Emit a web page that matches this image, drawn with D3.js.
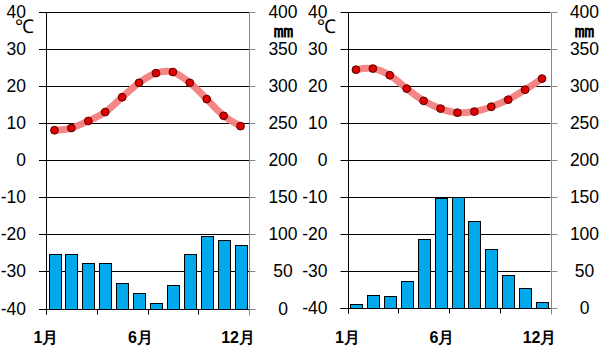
<!DOCTYPE html>
<html><head><meta charset="utf-8">
<script src="https://cdn.jsdelivr.net/npm/d3@7/dist/d3.min.js"></script>
<style>
html,body{margin:0;padding:0;background:#fff;}
svg{display:block;}
text{font-family:"Liberation Sans",Arial,sans-serif;}
</style></head>
<body>
<svg id="c" width="600" height="347"></svg>
<script>
const months = ["1月","2月","3月","4月","5月","6月","7月","8月","9月","10月","11月","12月"];
const tempA = [8.1, 8.7, 10.6, 13.0, 17.0, 20.9, 23.5, 23.8, 20.9, 16.5, 12.0, 9.2];
const precipA = [74, 74, 61, 61, 34, 21, 8, 32, 74, 98, 93, 86];
const tempB = [24.3, 24.6, 22.8, 19.2, 15.9, 13.8, 12.7, 13.0, 14.3, 16.2, 18.9, 21.9];
const precipB = [6, 18, 16, 36, 93, 148, 150, 118, 79, 45, 27, 8];
const tempTicks = [-40, -30, -20, -10, 0, 10, 20, 30, 40];
const precipTicks = [0, 50, 100, 150, 200, 250, 300, 350, 400];
const shownLabels = ["1月", "6月", "12月"];
const tempUnit = "℃";
const precipUnit = "㎜";

const svg = d3.select("#c");

function drawChart(temps, precs, x0, x1, yTop, yBot) {
  const g = svg.append("g");
  const x = d3.scaleBand().domain(months).range([x0, x1]).paddingInner(0.3).paddingOuter(0.15);
  const xc = m => x(m) + x.bandwidth() / 2;
  const yT = d3.scaleLinear().domain([-40, 40]).range([yBot, yTop]);
  const yP = d3.scaleLinear().domain([0, 400]).range([yBot, yTop]);
  const snap = v => Math.round(v) + 0.5;

  g.selectAll(".grid").data(tempTicks).join("line")
    .attr("x1", x0 - 7).attr("x2", x1)
    .attr("y1", d => snap(yT(d))).attr("y2", d => snap(yT(d)))
    .attr("stroke", "#000").attr("stroke-width", 1);

  g.selectAll(".bar").data(precs).join("rect")
    .attr("x", (d, i) => Math.round(x(months[i])) + 0.5)
    .attr("width", Math.round(x.bandwidth()))
    .attr("y", d => Math.round(yP(d)) + 0.5)
    .attr("height", d => snap(yP(0)) - (Math.round(yP(d)) + 0.5))
    .attr("fill", "#00A9EC").attr("stroke", "#000").attr("stroke-width", 1);

  g.append("line").attr("x1", snap(x0)).attr("x2", snap(x0))
    .attr("y1", snap(yT(40))).attr("y2", snap(yT(-40)) + 5)
    .attr("stroke", "#000");
  g.append("line").attr("x1", x0 - 7).attr("x2", x1)
    .attr("y1", snap(yT(-40))).attr("y2", snap(yT(-40))).attr("stroke", "#000");
  const bounds = [0, 3, 6, 9];
  g.selectAll(".xt").data(bounds).join("line")
    .attr("x1", i => snap(x(months[i]) - x.step() * 0.15))
    .attr("x2", i => snap(x(months[i]) - x.step() * 0.15))
    .attr("y1", snap(yT(-40))).attr("y2", snap(yT(-40)) + 5)
    .attr("stroke", "#000");

  g.append("line").attr("x1", snap(x1)).attr("x2", snap(x1))
    .attr("y1", snap(yP(400))).attr("y2", snap(yP(0)) + 6)
    .attr("stroke", "#888");
  g.selectAll(".rt").data(precipTicks).join("line")
    .attr("x1", snap(x1)).attr("x2", snap(x1) + 6)
    .attr("y1", d => snap(yP(d))).attr("y2", d => snap(yP(d)))
    .attr("stroke", "#888");

  g.selectAll(".lt").data(tempTicks).join("text")
    .attr("x", x0 - 20).attr("y", d => yT(d) + 6)
    .attr("text-anchor", "end").attr("font-size", 17.5)
    .text(d => d);
  g.selectAll(".rtl").data(precipTicks).join("text")
    .attr("x", x1 + 34).attr("y", d => yP(d) + 6)
    .attr("text-anchor", "middle").attr("font-size", 17.5)
    .text(d => d);

  g.append("text").attr("x", x0 - 22).attr("y", yT(40) + 21)
    .attr("text-anchor", "middle").attr("font-size", 19)
    .attr("font-family", "DejaVu Sans").attr("letter-spacing", -1)
    .text(tempUnit);
  g.append("text").attr("x", x1 + 34).attr("y", yP(400) + 25)
    .attr("text-anchor", "middle").attr("font-size", 21)
    .attr("font-weight", "bold")
    .attr("font-family", "Noto Sans CJK JP")
    .text(precipUnit);

  const line = d3.line().x((d, i) => xc(months[i])).y(d => yT(d)).curve(d3.curveCatmullRom.alpha(0.5));
  g.append("path").attr("d", line(temps)).attr("fill", "none")
    .attr("stroke", "#F47F7F").attr("stroke-width", 7).attr("stroke-linecap", "round")
    .attr("opacity", 0.95);
  g.selectAll(".dot").data(temps).join("circle")
    .attr("cx", (d, i) => xc(months[i])).attr("cy", d => yT(d)).attr("r", 3.9)
    .attr("fill", "#E00000").attr("stroke", "#400").attr("stroke-width", 0.9);

  const lx = m => {
    if (m === months[0]) return x.range()[0];
    if (m === months[months.length - 1]) return xc(m) - 2.5;
    return xc(m) + 1.5;
  };
  g.selectAll(".xl").data(shownLabels).join("text")
    .attr("x", lx).attr("y", 343)
    .attr("text-anchor", "middle").attr("font-size", 16).attr("font-weight", "bold")
    .attr("font-family", "Noto Sans CJK JP")
    .text(d => d);
}

drawChart(tempA, precipA, 46, 249, 12, 308.5);
drawChart(tempB, precipB, 347.5, 550.5, 11.5, 308);
</script>
</body></html>
